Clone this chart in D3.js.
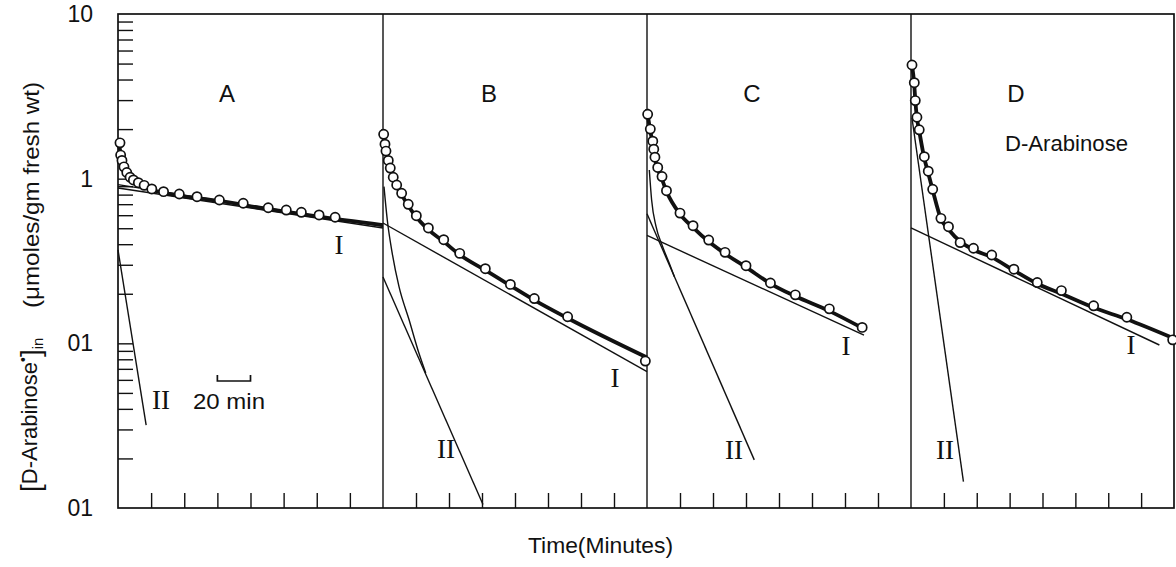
<!DOCTYPE html>
<html>
<head>
<meta charset="utf-8">
<script src="https://cdn.jsdelivr.net/npm/d3@7"></script>
<style>
  html, body { margin: 0; padding: 0; background: #fff; }
  svg { display: block; }
  text { font-family: "Liberation Sans", Arial, sans-serif; fill: #111; }
  .roman { font-family: "Liberation Serif", "DejaVu Serif", serif; }
</style>
</head>
<body>
<svg id="chart" width="1176" height="567"></svg>
<script>
// ---- data: efflux of labelled D-arabinose, four experiments (A–D) ----
const panelNames = ["A", "B", "C", "D"];
const timeTicks = [20, 40, 60, 80, 100, 120, 140];      // minutes
const yLabelValues = [10, 1, 0.1, 0.01];
const yLabelTexts = ["10", "1", "01", "01"];

// measured points [time (min), µmoles/gm fresh wt]
const pointsA = [[1.2,1.65],[1.6,1.39],[2.4,1.29],[3.6,1.18],[5.3,1.09],[7.3,1.02],[9.3,0.982],[12.3,0.945],[15.8,0.911],[20.4,0.866],[27.5,0.834],[37,0.807],[47.7,0.777],[61.2,0.742],[75.6,0.709],[90.7,0.666],[101.6,0.645],[110.7,0.625],[121.4,0.602],[131.1,0.583]];
const pointsB = [[0.4,1.86],[1.2,1.62],[1.8,1.47],[3.2,1.29],[4.4,1.16],[6.2,1.02],[8.3,0.915],[11.3,0.815],[15.3,0.699],[20.2,0.596],[27.5,0.502],[36.8,0.426],[46.5,0.352],[62,0.284],[77.2,0.228],[91.7,0.187],[111.9,0.145],[159,0.078]];
const pointsC = [[0.4,2.46],[2.0,2.0],[3.5,1.69],[4.1,1.51],[4.8,1.35],[6.5,1.17],[9.1,1.03],[11.8,0.845],[20,0.618],[27.9,0.518],[37.4,0.424],[47.3,0.357],[60,0.296],[74.8,0.2325],[89.9,0.197],[110.5,0.162],[130.4,0.125]];
const pointsD = [[0.6,4.90],[2.0,3.83],[2.6,2.98],[3.6,2.36],[5.0,1.98],[8.1,1.36],[10.5,1.11],[13.2,0.862],[18.2,0.574],[22.8,0.511],[29.9,0.409],[38,0.378],[49.1,0.344],[62.6,0.282],[76.8,0.234],[91.5,0.209],[111.1,0.169],[131.3,0.144],[159.2,0.105]];

// fitted total efflux curves (heavy line)
const fitA = [[0,1.72],[1.5,1.45],[3,1.22],[5,1.09],[8,0.99],[12,0.93],[20,0.86],[35,0.795],[60,0.735],[90,0.655],[120,0.59],[160,0.523]];
const fitB = [[0,2.0],[1,1.66],[2,1.44],[3.2,1.26],[5,1.1],[8,0.91],[11.3,0.8],[15.3,0.685],[20.2,0.585],[27.5,0.49],[36.8,0.415],[46.5,0.345],[62,0.278],[77.2,0.224],[91.7,0.183],[112,0.142],[160,0.082]];
const fitC = [[0,2.65],[1,2.25],[2,1.95],[3.5,1.62],[4.8,1.33],[6.5,1.15],[9.1,0.99],[12,0.83],[20,0.61],[28,0.505],[37.4,0.415],[47.3,0.35],[60,0.29],[75,0.23],[90,0.193],[110,0.158],[130.4,0.124]];
const fitD = [[0.6,4.9],[2,3.7],[2.6,3.0],[3.6,2.35],[5,1.95],[8.1,1.33],[10.5,1.08],[13.2,0.85],[18.2,0.57],[23,0.49],[30,0.415],[38,0.37],[49,0.334],[62.6,0.277],[76.8,0.23],[91.5,0.2],[111,0.165],[131.3,0.14],[160,0.107]];

// slow (I) and fast (II) exponential components, straight on log axis
const compIA = [[0,0.878],[160,0.502]];
const compIA2 = [[0,0.92],[160,0.513]];
const compIIA = [[0,0.369],[17.0,0.0319]];
const compIB = [[0,0.538],[160,0.0673]];
const compIIB = [[0,0.253],[60.6,0.0105]];
const compIC = [[0,0.452],[131.5,0.112]];
const compIIC = [[0,0.6125],[65.0,0.0196]];
const compID = [[0,0.502],[151.1,0.0977]];
const compIID = [[0.6,2.335],[31.9,0.01445]];

// early fast-phase curves (total minus slow component)
const residB = [[0.6,0.894],[2.6,0.561],[5.6,0.352],[9.7,0.221],[15.8,0.139],[21.8,0.087],[25.9,0.066]];
const residC = [[1.4,1.129],[2.8,0.742],[5.5,0.511],[9.5,0.386],[13.5,0.306],[16.6,0.254]];

// ---- layout ----
const svg = d3.select("#chart");
const plotTop = 14, plotBottom = 508;
const bounds = [118, 383, 647, 911, 1174];
const tMax = 160;

const y = d3.scaleLog().domain([0.01, 10]).range([plotBottom, plotTop]);
const xs = panelNames.map((_, i) =>
  d3.scaleLinear().domain([0, tMax]).range([bounds[i], bounds[i + 1]]));

const ink = "#111";

// frame and panel dividers
svg.append("rect")
  .attr("x", bounds[0]).attr("y", plotTop)
  .attr("width", bounds[4] - bounds[0]).attr("height", plotBottom - plotTop)
  .attr("fill", "none").attr("stroke", ink).attr("stroke-width", 1.7);
svg.selectAll("line.divider").data(bounds.slice(1, 4)).join("line")
  .attr("class", "divider")
  .attr("x1", d => d).attr("x2", d => d)
  .attr("y1", plotTop).attr("y2", plotBottom)
  .attr("stroke", ink).attr("stroke-width", 1.4);

// inward log ticks on the left axis
const minorTicks = y.ticks().filter(v => v > 0.0101 && v < 9.99);
const yTickAxis = d3.axisRight(y).tickValues(minorTicks).tickSize(15).tickFormat("");
svg.append("g").attr("transform", `translate(${bounds[0]},0)`).call(yTickAxis)
  .call(g => g.select(".domain").remove())
  .call(g => g.selectAll("line").attr("stroke", ink).attr("stroke-width", 1.4));

// left axis labels
const yLabelAxis = d3.axisLeft(y).tickValues(yLabelValues).tickSize(0).tickPadding(25)
  .tickFormat((d, i) => yLabelTexts[i]);
svg.append("g").attr("transform", `translate(${bounds[0]},0)`).call(yLabelAxis)
  .call(g => g.select(".domain").remove())
  .call(g => g.selectAll("text")
    .attr("font-family", "Liberation Sans, Arial, sans-serif")
    .attr("font-size", 23).attr("fill", ink));

// bottom inward time ticks, 20 min apart in each panel
xs.forEach(x => {
  svg.append("g").attr("transform", `translate(0,${plotBottom})`)
    .call(d3.axisTop(x).tickValues(timeTicks).tickSize(15).tickFormat(""))
    .call(g => g.select(".domain").remove())
    .call(g => g.selectAll("line").attr("stroke", ink).attr("stroke-width", 1.4));
});

// curves, components and points per panel
const panels = [
  { pts: pointsA, fit: fitA, comps: [compIA, compIA2, compIIA], resid: null },
  { pts: pointsB, fit: fitB, comps: [compIB, compIIB], resid: residB },
  { pts: pointsC, fit: fitC, comps: [compIC, compIIC], resid: residC },
  { pts: pointsD, fit: fitD, comps: [compID, compIID], resid: null }
];

panels.forEach((p, i) => {
  const x = xs[i];
  const g = svg.append("g");
  const straight = d3.line().x(d => x(d[0])).y(d => y(d[1]));
  const smooth = d3.line().x(d => x(d[0])).y(d => y(d[1])).curve(d3.curveMonotoneX);

  p.comps.forEach(c => {
    g.append("path").attr("d", straight(c))
      .attr("fill", "none").attr("stroke", ink).attr("stroke-width", 1.4);
  });
  if (p.resid) {
    g.append("path").attr("d", smooth(p.resid))
      .attr("fill", "none").attr("stroke", ink).attr("stroke-width", 1.4);
  }
  g.append("path").attr("d", smooth(p.fit))
    .attr("fill", "none").attr("stroke", ink).attr("stroke-width", 3.8)
    .attr("stroke-linejoin", "round");
  g.selectAll("circle").data(p.pts).join("circle")
    .attr("cx", d => x(d[0])).attr("cy", d => y(d[1])).attr("r", 4.6)
    .attr("fill", "#fff").attr("stroke", ink).attr("stroke-width", 1.7);
});

// panel letters
const letterPos = [[227, 102], [489, 102], [752, 102], [1016, 102]];
svg.selectAll("text.panel").data(panelNames).join("text")
  .attr("class", "panel")
  .attr("x", (d, i) => letterPos[i][0]).attr("y", (d, i) => letterPos[i][1])
  .attr("text-anchor", "middle").attr("font-size", 24)
  .text(d => d);

svg.append("text").attr("x", 1005).attr("y", 151)
  .attr("font-size", 22).attr("textLength", 123).attr("lengthAdjust", "spacingAndGlyphs")
  .text("D-Arabinose");

// component labels
const romanLabels = [
  ["I", 339, 245], ["II", 161, 400],
  ["I", 615, 378], ["II", 446, 449],
  ["I", 846, 346], ["II", 734, 450],
  ["I", 1131, 345], ["II", 945, 450]
];
svg.selectAll("text.roman").data(romanLabels).join("text")
  .attr("class", "roman")
  .attr("x", d => d[1]).attr("y", d => d[2])
  .attr("text-anchor", "middle").attr("dominant-baseline", "central")
  .attr("font-size", 27)
  .text(d => d[0]);

// 20-minute scale bar
const xA = xs[0];
svg.append("path")
  .attr("d", `M${xA(60)},375 V381 H${xA(80)} V375`)
  .attr("fill", "none").attr("stroke", ink).attr("stroke-width", 1.7);
svg.append("text").attr("x", 193).attr("y", 409)
  .attr("font-size", 22).attr("textLength", 72).attr("lengthAdjust", "spacingAndGlyphs")
  .text("20 min");

// axis titles
svg.append("text").attr("x", 528).attr("y", 553)
  .attr("font-size", 22).attr("textLength", 145).attr("lengthAdjust", "spacingAndGlyphs")
  .text("Time(Minutes)");

const yt = svg.append("g").attr("transform", "translate(37,492) rotate(-90)");
const t1 = yt.append("text").attr("x", 0).attr("y", 0).attr("font-size", 22);
t1.append("tspan").attr("font-size", 28).attr("dy", 3).text("[");
t1.append("tspan").attr("dy", -3).text("D-Arabinose");
t1.append("tspan").attr("dy", -9).attr("font-size", 14).text("•");
t1.append("tspan").attr("dy", 12).attr("font-size", 28).text("]");
t1.append("tspan").attr("dy", 3).attr("font-size", 15).text("in");
yt.append("text").attr("x", 184).attr("y", 2).attr("font-size", 22)
  .attr("textLength", 226).attr("lengthAdjust", "spacingAndGlyphs")
  .text("(μmoles/gm fresh wt)");
</script>
</body>
</html>
